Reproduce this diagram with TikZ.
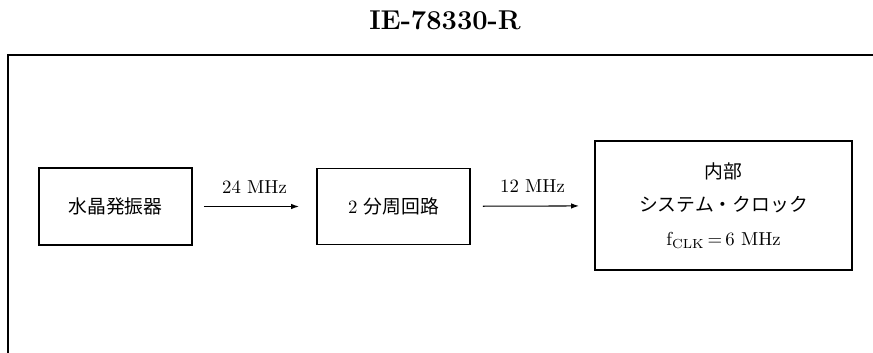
\documentclass[tikz,border=0pt]{standalone}
\usepackage{fontspec}
\usetikzlibrary{positioning,arrows.meta}
\newfontfamily\cjk{Noto Sans CJK JP}
\newcommand{\txt}{\fontsize{10.7}{19}\selectfont}
\tikzset{
  blk/.style={draw, line width=1.1pt, align=center, font=\txt, inner sep=0pt},
  flow/.style={-{Latex[length=1.6mm, width=1.1mm]}, line width=0.6pt,
               shorten <=2.2mm, shorten >=3.4mm},
  % frequency labels that sit above an arrow
  lbl/.style={font=\txt, inner sep=1pt, above=2.2mm},
  frame/.style={line width=1.5pt},
  title/.style={font=\fontsize{15.5}{18}\selectfont\bfseries, inner sep=0pt},
}

\begin{document}
\begin{tikzpicture}[x=0.2mm, y=-0.2mm]
\useasboundingbox (0,0) rectangle (873,353);

\def\Y{206.5}  % y of the row of blocks

%% ── heading and frame ────────────────────────────────────────────────────
\node[title] (head) at (445,20) {IE-78330-R};
\coordinate (tl) at (8,55);
\draw[frame] (873,55) -- (tl) -- (8,353);

%% ── clock chain ──────────────────────────────────────────────────────────
\node[blk, minimum width=30.6mm, minimum height=15.4mm] (xtal) at (115.5,\Y)
  {{\cjk 水晶発振器}};
\node[blk, minimum width=30.6mm, minimum height=15.2mm] (div) at (393.5,\Y)
  {2 {\cjk 分周回路}};
\node[blk, minimum width=51.4mm, minimum height=25.8mm] (sys) at (723.5,205.5)
  {{\cjk 内部}\\ {\cjk システム・クロック}\\ f$_{\mathrm{CLK}}$\,=\,6 MHz};

\draw[flow] (xtal) -- node[lbl] {24 MHz} (div);
\draw[flow, shorten <=2.4mm, shorten >=3mm] (div) -- node[lbl] {12 MHz} (sys);

\end{tikzpicture}
\end{document}
